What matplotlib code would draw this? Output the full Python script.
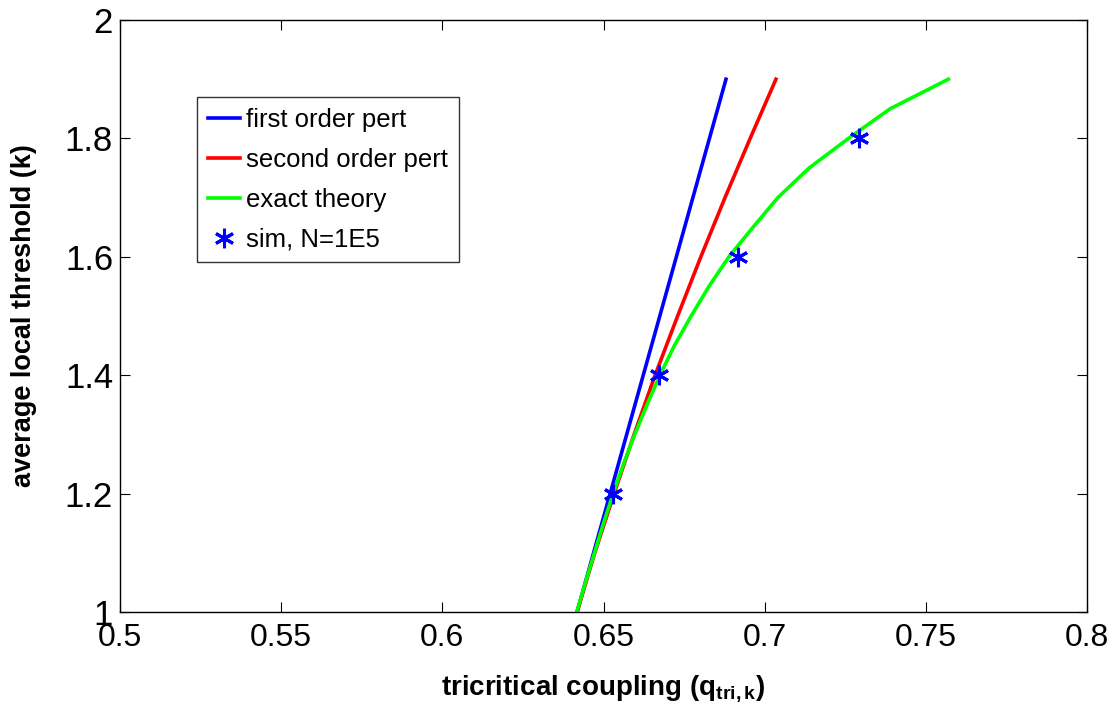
import matplotlib.pyplot as plt

# threshold values (k) on the vertical axis
k_first = [1.0, 1.9]
q_first = [0.6418, 0.6880]

k_second = [1.0, 1.1, 1.2, 1.3, 1.4, 1.5, 1.6, 1.7, 1.8, 1.9]
q_second = [0.6418, 0.6473, 0.6533, 0.6595, 0.6660, 0.6730, 0.6802, 0.6877, 0.6955, 0.7035]

k_exact = [1.0, 1.05, 1.1, 1.15, 1.2, 1.25, 1.3, 1.35, 1.4, 1.45,
           1.5, 1.55, 1.6, 1.65, 1.7, 1.75, 1.8, 1.85, 1.9]
q_exact = [0.6417, 0.6444, 0.6472, 0.6500, 0.6530, 0.6562, 0.6597, 0.6635, 0.6675, 0.6720,
           0.6772, 0.6827, 0.6889, 0.6964, 0.7041, 0.7138, 0.7260, 0.7389, 0.7570]

k_sim = [1.2, 1.4, 1.6, 1.8]
q_sim = [0.6531, 0.6673, 0.6918, 0.7293]

xticks = [0.5, 0.55, 0.6, 0.65, 0.7, 0.75, 0.8]
xtick_labels = ['0.5', '0.55', '0.6', '0.65', '0.7', '0.75', '0.8']
yticks = [1, 1.2, 1.4, 1.6, 1.8, 2]
ytick_labels = ['1', '1.2', '1.4', '1.6', '1.8', '2']

plt.rcParams['font.family'] = ['Liberation Sans', 'DejaVu Sans']
plt.rcParams['mathtext.fontset'] = 'custom'
plt.rcParams['mathtext.rm'] = 'Liberation Sans:bold'
plt.rcParams['mathtext.it'] = 'Liberation Sans:bold'
plt.rcParams['mathtext.bf'] = 'Liberation Sans:bold'

fig = plt.figure(figsize=(11.16, 7.10), dpi=100)
ax = fig.add_axes([120 / 1116, 98 / 710, 967 / 1116, 592 / 710])

ax.plot(q_first, k_first, color='#0000ff', lw=2.6, label='first order pert')
ax.plot(q_second, k_second, color='#ff0000', lw=2.6, label='second order pert')
ax.plot(q_exact, k_exact, color='#00ff00', lw=2.6, label='exact theory')
ax.plot(q_sim, k_sim, ls='none', marker=(6, 2, 0), ms=14, mew=2.2,
        color='#0000ff', label='sim, N=1E5')

ax.set_xlim(0.5, 0.8)
ax.set_ylim(1, 2)
ax.set_xticks(xticks)
ax.set_xticklabels(xtick_labels)
ax.set_yticks(yticks)
ax.set_yticklabels(ytick_labels)
ax.tick_params(direction='in', length=7, width=0.8, top=True, right=True)
ax.tick_params(axis='x', pad=8, labelsize=23)
ax.tick_params(axis='y', pad=5, labelsize=25)
for s in ax.spines.values():
    s.set_linewidth(1.0)

ax.set_xlabel(r'tricritical coupling (q$_{\mathbf{tri,k}}$)', fontsize=20,
              fontweight='bold', labelpad=14)
ax.set_ylabel('average local threshold (k)', fontsize=19.5, fontweight='bold',
              labelpad=20)

leg = ax.legend(loc='upper left', bbox_to_anchor=(0.0796, 0.870), fontsize=18.5,
                frameon=True, fancybox=False, edgecolor='black', borderaxespad=0,
                handlelength=1.25, handletextpad=0.25, labelspacing=0.62,
                borderpad=0.42)
leg.get_frame().set_linewidth(1.0)

fig.savefig('out.png', dpi=100)
